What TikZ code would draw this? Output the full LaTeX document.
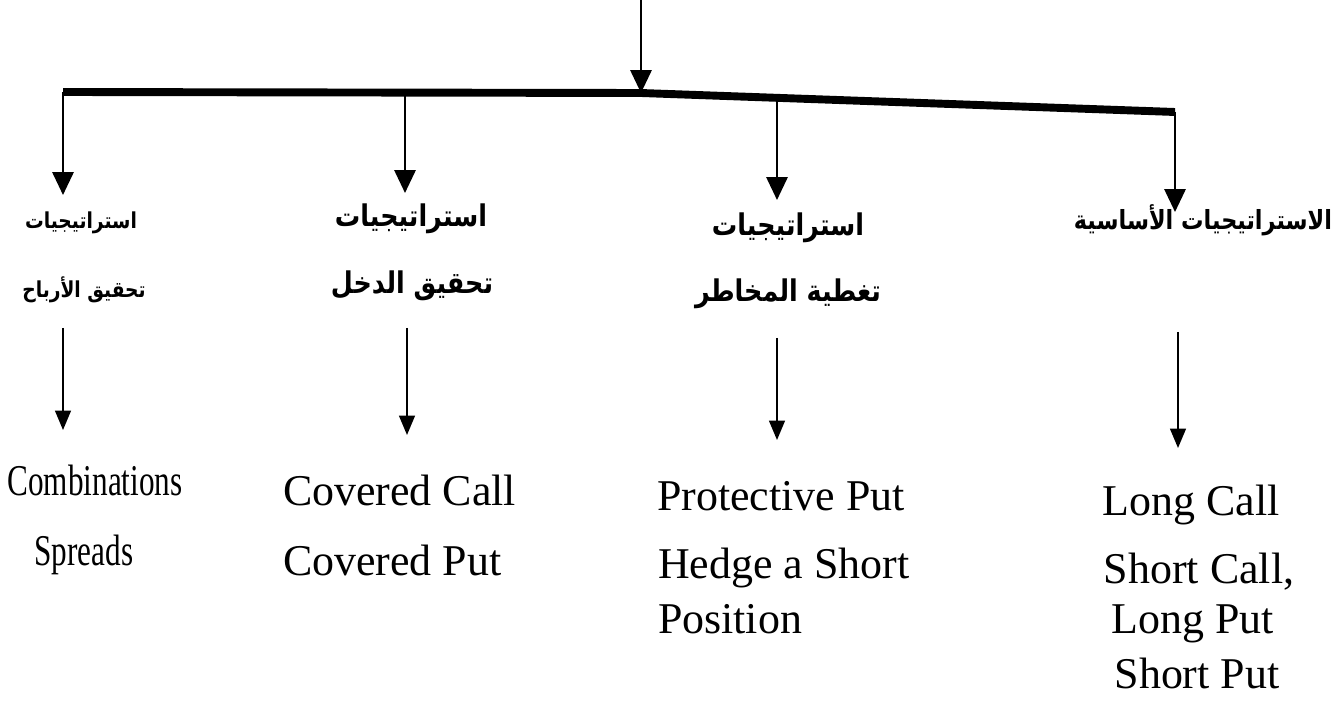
\documentclass[tikz,border=0pt]{standalone}
\usepackage{fontspec}
\setmainfont{Liberation Serif}
\newfontfamily\narrowfont[FakeStretch=0.71]{Liberation Serif}
\newfontfamily\arabicfont[Script=Arabic, FakeStretch=0.85]{DejaVu Sans}
\TeXXeTstate=1
\usetikzlibrary{arrows.meta}

\newcommand{\artext}[1]{\beginR #1\endR}

\begin{document}
\begin{tikzpicture}[x=0.02cm, y=-0.02cm,
                    every node/.style={inner sep=0pt, outer sep=0pt},
                    arab/.style={anchor=base, font=\arabicfont\bfseries\fontsize{17}{20}\selectfont},
                    arabsmall/.style={anchor=base, font=\arabicfont\bfseries\fontsize{12.5}{15}\selectfont},
                    arabwide/.style={anchor=base, font=\arabicfont\bfseries\fontsize{15}{18}\selectfont},
                    item/.style={anchor=base west, font=\fontsize{25}{30}\selectfont},
                    itemc/.style={anchor=base, font=\fontsize{25}{30}\selectfont},
                    itemn/.style={anchor=base, font=\narrowfont\fontsize{25}{30}\selectfont},
                    bar/.style={line width=4.5pt},
                    mainarrow/.style={line width=1.4pt, -{Triangle[width=12pt,length=13pt]}},
                    subarrow/.style={line width=1pt, -{Triangle[width=9pt,length=11pt]}}
                ]
\useasboundingbox (0,0) rectangle (1335,709);

% the bar and the arrow coming into it
\coordinate (src) at (641,0);
\coordinate (b1) at (63,92);
\coordinate (b0) at (641,93);
\coordinate (b2) at (405,93);
\coordinate (b3) at (777,99);
\coordinate (b4) at (1175,112);
\draw[bar] (b1) -- (b0) -- (b4);
\draw[mainarrow] (src) -- (b0);

% first level
\node[arabsmall] (t1a) at (81,229) {\artext{استراتيجيات}};
\node[arabsmall] (t1b) at (84,298) {\artext{تحقيق الأرباح}};
\node[arab] (t2a) at (411,227) {\artext{استراتيجيات}};
\node[arab] (t2b) at (412,294) {\artext{تحقيق الدخل}};
\node[arab] (t3a) at (788,236) {\artext{استراتيجيات}};
\node[arab] (t3b) at (788,302) {\artext{تغطية المخاطر}};
\node[arabwide] (t4a) at (1203,230) {\artext{الاستراتيجيات الأساسية}};

\coordinate (h1) at (63,195);
\coordinate (h2) at (405,193);
\coordinate (h3) at (777,200);
\coordinate (h4) at (1175,212);
\foreach \i in {1,2,3,4}
    \draw[mainarrow] (b\i) -- (h\i);

% second level
\node[itemn] (c1a) at (95,495) {Combinations};
\node[itemn] (c1b) at (84,565) {Spreads};
\node[item] (c2a) at (283,505) {Covered Call};
\node[item] (c2b) at (283,575) {Covered Put};
\node[item] (c3a) at (657,510) {Protective Put};
\node[item] (c3b) at (658,578) {Hedge a Short};
\node[item] (c3c) at (658,633) {Position};
\node[itemc] (c4a) at (1191,515) {Long Call};
\node[itemc] (c4b) at (1199,583) {Short Call,};
\node[itemc] (c4c) at (1193,633) {Long Put};
\node[itemc] (c4d) at (1197,688) {Short Put};

\coordinate (u1) at (63,328);
\coordinate (u2) at (407,328);
\coordinate (u3) at (777,338);
\coordinate (u4) at (1178,332);
\coordinate (d1) at (63,430);
\coordinate (d2) at (407,435);
\coordinate (d3) at (777,440);
\coordinate (d4) at (1178,448);
\foreach \i in {1,2,3,4}
    \draw[subarrow] (u\i) -- (d\i);
\end{tikzpicture}
\end{document}
